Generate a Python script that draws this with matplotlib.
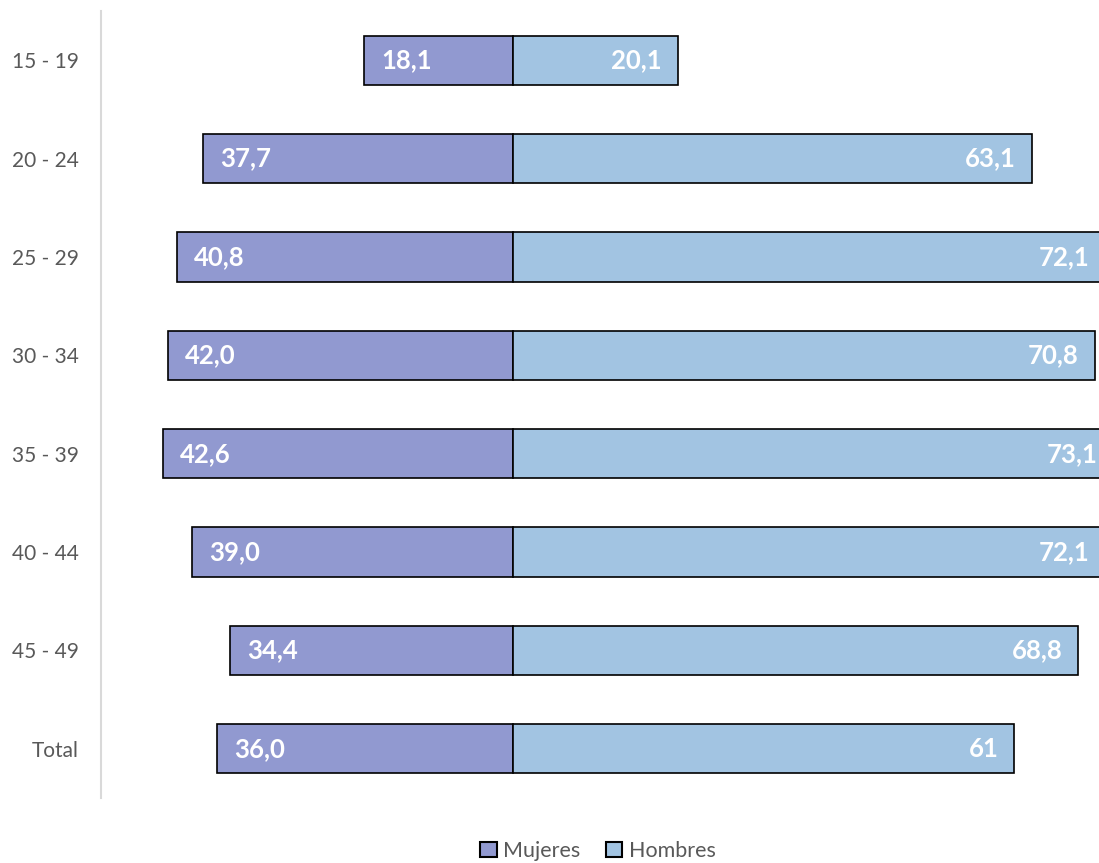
import matplotlib
matplotlib.use("Agg")
import matplotlib.pyplot as plt
from matplotlib.patches import Patch

categories = ["15 - 19", "20 - 24", "25 - 29", "30 - 34", "35 - 39", "40 - 44", "45 - 49", "Total"]
mujeres = [18.1, 37.7, 40.8, 42.0, 42.6, 39.0, 34.4, 36.0]
hombres = [20.1, 63.1, 72.1, 70.8, 73.1, 72.1, 68.8, 61.0]
mujeres_labels = ["18,1", "37,7", "40,8", "42,0", "42,6", "39,0", "34,4", "36,0"]
hombres_labels = ["20,1", "63,1", "72,1", "70,8", "73,1", "72,1", "68,8", "61"]

plt.rcParams['font.family'] = ['Lato', 'DejaVu Sans']

W, H = 1099, 863
fig = plt.figure(figsize=(W / 100, H / 100), dpi=100)
ax = fig.add_axes([101 / W, 1 - 798 / H, (W - 101) / W, 787 / H])

c_m = "#9199D0"
c_h = "#A2C4E2"
y = list(range(len(categories)))
ax.barh(y, [-v for v in mujeres], height=0.5, color=c_m, edgecolor="black", linewidth=1.2)
ax.barh(y, hombres, height=0.5, color=c_h, edgecolor="black", linewidth=1.2)

ax.set_xlim(-50.1, 71.3)
ax.set_ylim(7.5, -0.5)
ax.set_yticks(y)
ax.set_yticklabels(categories, fontsize=15, color="#595959")
ax.tick_params(axis="y", length=0, pad=16)
ax.set_xticks([])
for s in ["top", "right", "bottom"]:
    ax.spines[s].set_visible(False)
ax.spines["left"].set_color("#D9D9D9")
ax.spines["left"].set_linewidth(1.5)

for i in y:
    ax.text(-mujeres[i] + 2.05, i, mujeres_labels[i], ha="left", va="center",
            fontsize=18.5, fontweight="bold", color="white", clip_on=False)
    ax.text(hombres[i] - 1.95, i, hombres_labels[i], ha="right", va="center",
            fontsize=18.5, fontweight="bold", color="white", clip_on=False)

handles = [Patch(facecolor=c_m, edgecolor="black", linewidth=1.5, label="Mujeres"),
           Patch(facecolor=c_h, edgecolor="black", linewidth=1.5, label="Hombres")]
fig.legend(handles=handles, loc="center", bbox_to_anchor=(598 / W, 1 - 851 / H), ncol=2,
           frameon=False, fontsize=15.5, handlelength=0.75, handleheight=0.75,
           handletextpad=0.3, columnspacing=1.2, labelcolor="#595959")

fig.savefig("out.png", dpi=100)
